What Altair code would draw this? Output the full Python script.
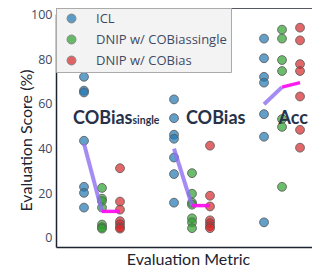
import altair as alt
import pandas as pd

# ---------------- data ----------------
groups = ["COBias_single", "COBias", "Acc"]
methods = ["ICL", "DNIP w/ COBiassingle", "DNIP w/ COBias"]
colors = ["#1f77b4", "#2ca02c", "#d62728"]

icl = [
    [72.1, 65.9, 65.1, 43.5, 22.9, 20.2, 13.6],
    [62.0, 53.6, 46.2, 44.4, 36.0, 28.6, 15.8],
    [89.2, 80.4, 72.1, 69.5, 55.4, 45.3, 7.0],
]
dnip_single = [
    [22.4, 17.6, 16.5, 13.6, 6.0, 4.8, 4.2],
    [29.0, 19.8, 15.8, 14.9, 8.8, 7.0, 4.4],
    [93.2, 89.2, 79.6, 74.7, 53.2, 49.7, 22.9],
]
dnip_cobias = [
    [31.2, 16.3, 12.7, 7.5, 6.2, 4.8, 4.2],
    [41.3, 18.9, 14.1, 7.9, 6.6, 5.3, 4.4],
    [94.1, 88.4, 77.8, 74.7, 63.3, 48.4, 40.4],
]
# mean lines
mean_icl = [42.2, 40.0, 59.8]
mean_single = [11.9, 14.5, 67.5]
mean_cobias = [11.9, 14.5, 69.5]

annot_text = ["COBias", "COBias", "Acc"]
annot_sub = ["single", "", ""]
annot_y = [51, 51, 51]

# ---------------- layout constants ----------------
offsets = [-0.2, 0.0, 0.2]
W, H = 256, 233
XDOM = [-0.511, 2.333]
YDOM = [-4.03, 100.2]

rows = []
for gi, g in enumerate(groups):
    for mi, (m, series) in enumerate(zip(methods, [icl, dnip_single, dnip_cobias])):
        for v in series[gi]:
            rows.append({"x": gi + offsets[mi], "y": v, "method": m, "order": mi})
pts = pd.DataFrame(rows)

seg1, seg2 = [], []
for gi in range(3):
    seg1 += [{"x": gi + offsets[0], "y": mean_icl[gi], "g": gi},
             {"x": gi + offsets[1], "y": mean_single[gi], "g": gi}]
    seg2 += [{"x": gi + offsets[1], "y": mean_single[gi], "g": gi},
             {"x": gi + offsets[2], "y": mean_cobias[gi], "g": gi}]
seg1 = pd.DataFrame(seg1)
seg2 = pd.DataFrame(seg2)

# annotation anchors (left edge of text)
annot_x_main = [-0.322, 0.933, 1.96]
ann = pd.DataFrame({"x": annot_x_main, "y": annot_y, "t": annot_text})
sub = pd.DataFrame({"x": [annot_x_main[0] + 0.66], "y": [annot_y[0]], "t": [annot_sub[0]]})

xs = alt.Scale(domain=XDOM, nice=False, zero=False)
ys = alt.Scale(domain=YDOM, nice=False, zero=False)

x_enc = alt.X("x:Q", scale=xs, axis=alt.Axis(
    labels=False, ticks=False, grid=False, title="Evaluation Metric",
    titleFont="Lato", titleFontSize=16, titleFontWeight="normal", titleColor="#1c2331",
    titleX=132, titleY=17, titleBaseline="alphabetic", titleAlign="center"))
y_enc = alt.Y("y:Q", scale=ys, axis=alt.Axis(
    values=[0, 20, 40, 60, 80, 100], ticks=False, grid=False, labelPadding=4,
    labelFont="Open Sans", labelFontSize=12.5, labelColor="#3d4b66",
    title="Evaluation Score (%)", titleFont="Lato", titleFontSize=16,
    titleFontWeight="normal", titleColor="#1c2331", titleAngle=270,
    titleX=-30, titleY=126, titleBaseline="middle", titleAlign="center"))

points = alt.Chart(pts).mark_circle(
    size=78, fillOpacity=0.7, stroke="#5a5a5a", strokeWidth=1, strokeOpacity=0.85
).encode(
    x=x_enc, y=y_enc,
    color=alt.Color("method:N", sort=methods,
                    scale=alt.Scale(domain=methods, range=colors),
                    legend=alt.Legend(
                        title=None, orient="none", legendX=0, legendY=-6,
                        fillColor="#f3f3f3", strokeColor="#aaaaaa", padding=4,
                        symbolOffset=5, symbolSize=80, symbolOpacity=0.7,
                        symbolStrokeColor="#5a5a5a", symbolStrokeWidth=1,
                        symbolType="circle", labelOffset=18, rowPadding=7,
                        labelFont="Open Sans", labelFontSize=13, labelColor="#3d4b66",
                        labelLimit=300)),
    order="order:Q",
)

line1 = alt.Chart(seg1).mark_line(color="#8f6ff2", strokeWidth=4, opacity=0.8).encode(
    x=alt.X("x:Q", scale=xs), y=alt.Y("y:Q", scale=ys), detail="g:N")
line2 = alt.Chart(seg2).mark_line(color="#ff10f0", strokeWidth=3.5, opacity=0.95).encode(
    x=alt.X("x:Q", scale=xs), y=alt.Y("y:Q", scale=ys), detail="g:N")

text_main = alt.Chart(ann).mark_text(
    align="left", baseline="alphabetic", font="Lato", fontSize=18, fontWeight="bold",
    color="#27324a").encode(x=alt.X("x:Q", scale=xs), y=alt.Y("y:Q", scale=ys), text="t:N")
text_sub = alt.Chart(sub).mark_text(
    align="left", baseline="alphabetic", font="Lato", fontSize=10.5, fontWeight="bold",
    color="#27324a").encode(x=alt.X("x:Q", scale=xs), y=alt.Y("y:Q", scale=ys), text="t:N")

top_line = alt.Chart(pd.DataFrame({"a": [0]})).mark_rule(
    color="#1c2331", strokeWidth=1.5).encode(
    x=alt.value(0), x2=alt.value(W), y=alt.value(-6))

chart = alt.layer(points, line1, line2, text_main, text_sub, top_line).properties(
    width=W, height=H, autosize="none",
    padding={"left": 48, "top": 6, "right": 0, "bottom": 21},
).configure_view(stroke=None).configure_axis(
    domainColor="#1c2331", domainWidth=1.5)

chart.save("out.html", embed_options={"renderer": "svg", "actions": False})
